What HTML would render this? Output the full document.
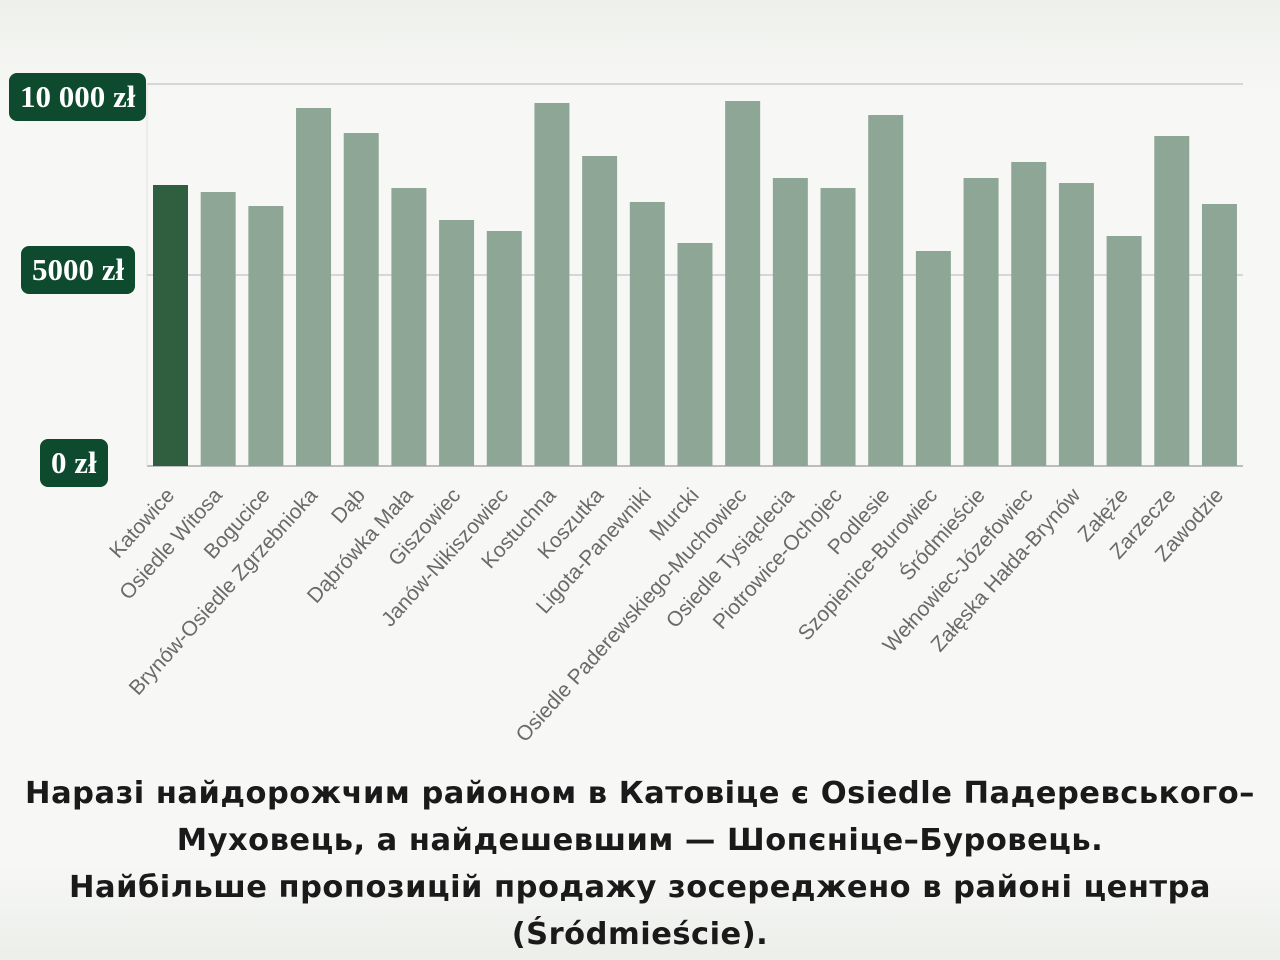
<!DOCTYPE html>
<html><head><meta charset="utf-8"><style>
html,body{margin:0;padding:0;background:#f4f5f2;}
#wrap{position:relative;width:1280px;height:960px;overflow:hidden;background:linear-gradient(#eef0ec,#f7f8f6 10%,#f7f8f6 90%,#eceeea);}
.ylab{position:absolute;background:#0d4a2e;color:#fff;font-family:"Liberation Serif",serif;font-weight:bold;font-size:31px;border-radius:8px;padding:0 11px;height:48px;line-height:48px;}
#caption{position:absolute;left:0;top:770px;width:1280px;text-align:center;font-family:"DejaVu Sans","Noto Sans CJK SC",sans-serif;font-weight:bold;font-size:30.5px;line-height:47px;color:#1a1a1a;letter-spacing:0.5px;white-space:nowrap;}
</style></head><body>
<div id="wrap">
<svg id="chart" width="1280" height="960" style="position:absolute;left:0;top:0"></svg>
<div class="ylab" style="left:9px;top:73px">10 000 zł</div>
<div class="ylab" style="left:21px;top:246px">5000 zł</div>
<div class="ylab" style="left:40px;top:439px">0 zł</div>
<div id="caption">Наразі найдорожчим районом в Катовіце є Osiedle Падеревського–<br>Муховець, а найдешевшим — Шопєніце–Буровець.<br>Найбільше пропозицій продажу зосереджено в районі центра<br>(Śródmieście).</div>
</div>
<script>
const categories=["Katowice","Osiedle Witosa","Bogucice","Brynów-Osiedle Zgrzebnioka","Dąb","Dąbrówka Mała","Giszowiec","Janów-Nikiszowiec","Kostuchna","Koszutka","Ligota-Panewniki","Murcki","Osiedle Paderewskiego-Muchowiec","Osiedle Tysiąclecia","Piotrowice-Ochojec","Podlesie","Szopienice-Burowiec","Śródmieście","Wełnowiec-Józefowiec","Załęska Hałda-Brynów","Załęże","Zarzecze","Zawodzie"];
const prices=[7356,7173,6806,9372,8717,7277,6440,6152,9503,8115,6911,5838,9555,7539,7277,9188,5628,7539,7958,7408,6021,8639,6859];
const yTicks=[0,5000,10000];
const NS="http://www.w3.org/2000/svg";
const svg=document.getElementById('chart');
const y0=466,yTop=84,yMax=10000;
function yScale(v){return y0-(v/yMax)*(y0-yTop);}
function xScale(i){return 153+i*47.68;}
const bw=35;
function mk(t,a){const e=document.createElementNS(NS,t);for(const k in a)e.setAttribute(k,a[k]);svg.appendChild(e);return e;}
yTicks.forEach(v=>{
  const l=mk('line',{x1:147,x2:1243,y1:yScale(v),y2:yScale(v),stroke:v===0?'#bdbdbd':'#d6d6d6','stroke-width':2});
  
  
});
const ax=mk('line',{x1:147,x2:147,y1:yTop,y2:y0,stroke:'#e0e0e0','stroke-width':1});


categories.forEach((c,i)=>{
  const x=xScale(i),y=yScale(prices[i]);
  const r=mk('rect',{x:x,y:y,width:bw,height:y0-y,fill:i===0?'#2f5f3f':'#8ea696'});
  
  
  const cx=x+bw/2+5;
  const t=mk('text',{x:cx,y:496,'text-anchor':'end',transform:`rotate(-48 ${cx} 496)`,'font-family':'Liberation Sans, sans-serif','font-size':21,fill:'#6a6a6a'});
  t.textContent=c;
  
  
});
</script>
</body></html>
